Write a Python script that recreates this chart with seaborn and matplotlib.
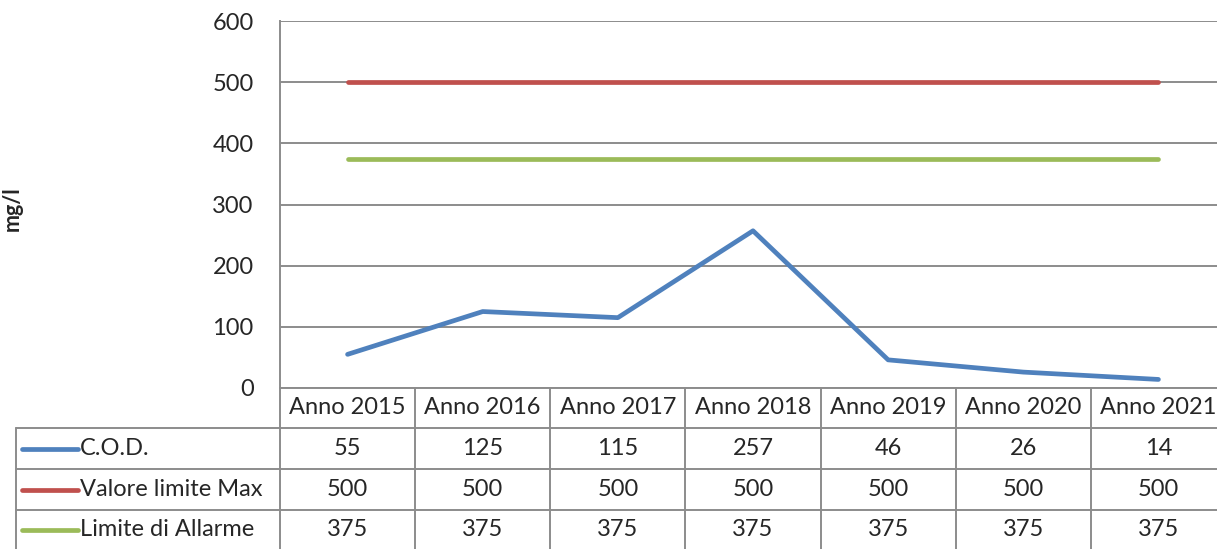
import matplotlib
matplotlib.use("Agg")
import matplotlib.pyplot as plt
import seaborn as sns
import pandas as pd

categories = ["Anno 2015", "Anno 2016", "Anno 2017", "Anno 2018", "Anno 2019", "Anno 2020", "Anno 2021"]
series_names = ["C.O.D.", "Valore limite Max", "Limite di Allarme"]
cod = [55, 125, 115, 257, 46, 26, 14]
valore_max = [500, 500, 500, 500, 500, 500, 500]
allarme = [375, 375, 375, 375, 375, 375, 375]
colors = ["#4F81BD", "#C0504D", "#9BBB59"]
y_ticks = [0, 100, 200, 300, 400, 500, 600]

sns.set_theme(style="white")
plt.rcParams["font.family"] = ["Lato", "DejaVu Sans"]

W, H = 1217, 549
FS = 17
fig = plt.figure(figsize=(W / 100, H / 100), dpi=100)

AX_L, AX_R = 280, 1226
ax = fig.add_axes([AX_L / W, 1 - 388 / H, (AX_R - AX_L) / W, (388 - 21) / H])

series_values = [cod, valore_max, allarme]
rows = []
for name, vals in zip(series_names, series_values):
    for c, v in zip(categories, vals):
        rows.append({"Anno": c, "Serie": name, "mg/l": v})
df = pd.DataFrame(rows)

sns.lineplot(data=df, x="Anno", y="mg/l", hue="Serie", hue_order=series_names,
             palette=colors, linewidth=3.4, legend=False, ax=ax,
             solid_capstyle="round", solid_joinstyle="round")

grid_c = "#8C8C8C"
ax.set_xlim(-0.5, len(categories) - 0.5)
ax.set_ylim(0, 600)
ax.set_yticks(y_ticks)
ax.set_yticklabels([str(t) for t in y_ticks], fontsize=FS)
ax.yaxis.grid(True, color=grid_c, linewidth=1.4)
ax.set_axisbelow(True)
ax.tick_params(axis="y", length=0, pad=19)
ax.set_xticks([])
ax.set_xlabel("")
for s in ["top", "right"]:
    ax.spines[s].set_visible(False)
ax.spines["left"].set_color(grid_c)
ax.spines["left"].set_linewidth(1.4)
ax.spines["bottom"].set_color(grid_c)
ax.spines["bottom"].set_linewidth(1.4)
ax.set_ylabel("mg/l", fontsize=15.5, fontweight="bold")
ax.yaxis.set_label_coords((23 - AX_L) / (AX_R - AX_L), 0.49)

# data table
col_w = (AX_R - AX_L) / len(categories)
x_left = -0.5 - (AX_L - 16) / col_w
axt = fig.add_axes([16 / W, 0, (AX_R - 16) / W, 161 / H])
axt.set_xlim(x_left, len(categories) - 0.5)
axt.set_ylim(161, 0)
axt.axis("off")

lw = 1.4
n = len(categories)
row_edges = [40, 81, 122, 161]
for y in row_edges[:-1]:
    axt.plot([x_left, n - 0.5], [y, y], color=grid_c, lw=lw, clip_on=False)
axt.plot([x_left, x_left], [40, 161], color=grid_c, lw=lw, clip_on=False)
for i in range(n):
    axt.plot([i - 0.5, i - 0.5], [0, 161], color=grid_c, lw=lw, clip_on=False)

for i, c in enumerate(categories):
    axt.text(i, 20, c, ha="center", va="center", fontsize=FS)

row_centers = [60.5, 101.5, 142]
key_len = (78 - 22) / col_w
for r, (name, vals, col) in enumerate(zip(series_names, series_values, colors)):
    yc = row_centers[r]
    kx0 = x_left + (22 - 16) / col_w
    axt.plot([kx0, kx0 + key_len], [yc, yc], color=col, lw=3.4, solid_capstyle="round")
    axt.text(kx0 + key_len + 2 / col_w, yc, name, ha="left", va="center", fontsize=FS)
    for i, v in enumerate(vals):
        axt.text(i, yc, str(v), ha="center", va="center", fontsize=FS)

fig.savefig("out.png", dpi=100)
